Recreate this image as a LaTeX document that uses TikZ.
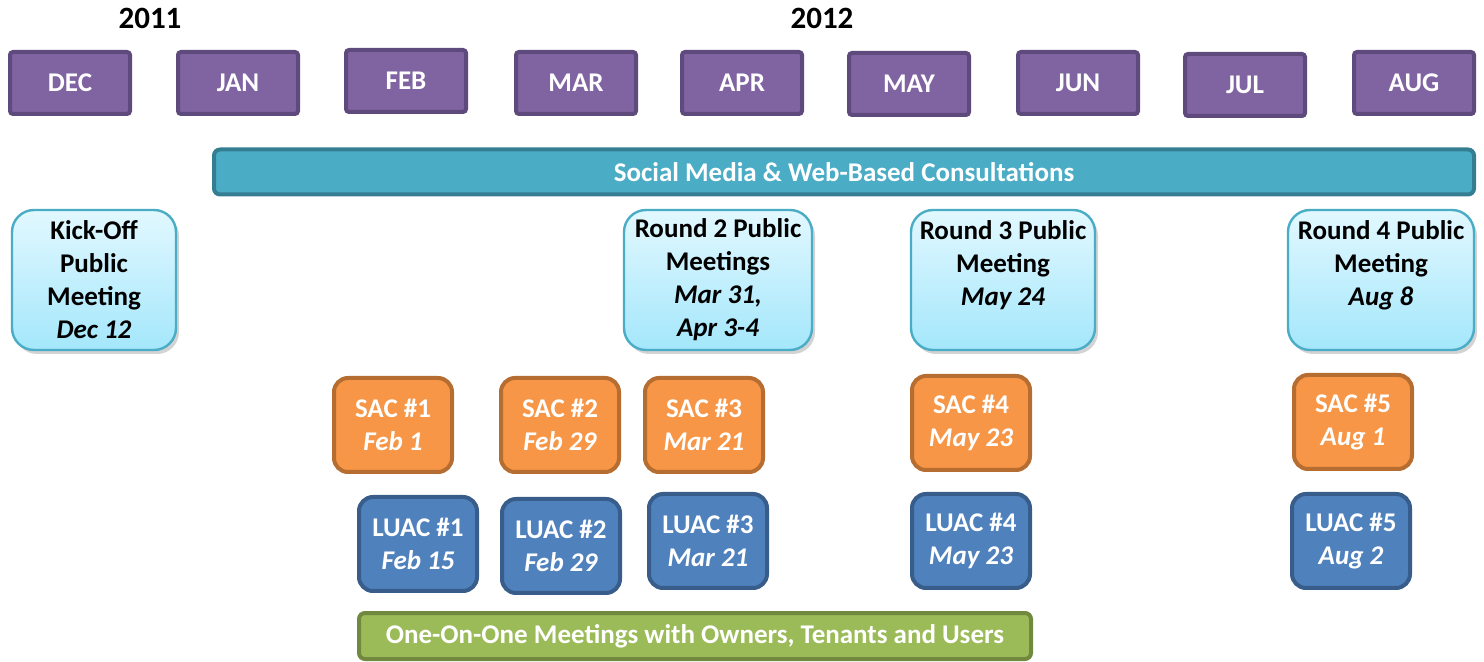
\documentclass[tikz,border=0pt]{standalone}
\usepackage{fontspec}
\setmainfont{Carlito}
\usepackage{xcolor}
\usetikzlibrary{shadows}

\definecolor{monthfill}{HTML}{8064A2}
\definecolor{monthline}{HTML}{5E4A7C}
\definecolor{webfill}{HTML}{4BACC6}
\definecolor{webline}{HTML}{357D91}
\definecolor{pubtop}{HTML}{E2F8FF}
\definecolor{pubbottom}{HTML}{A4E7FB}
\definecolor{publine}{HTML}{4BACC6}
\definecolor{sacfill}{HTML}{F79646}
\definecolor{sacline}{HTML}{B66D31}
\definecolor{luacfill}{HTML}{4F81BD}
\definecolor{luacline}{HTML}{385D8A}
\definecolor{onefill}{HTML}{9BBB59}
\definecolor{oneline}{HTML}{71893F}

\begin{document}
\begin{tikzpicture}[x=0.5pt,y=-0.5pt]
\tikzset{every node/.style={font=\bfseries\fontsize{13.5}{16.5}\selectfont, align=center, inner sep=0pt}}
\tikzset{year/.style={font=\bfseries\fontsize{15.5}{18}\selectfont}}
\tikzset{monthbox/.style={draw=monthline, fill=monthfill, line width=2pt, rounded corners=1.5pt, minimum width=60pt, minimum height=31pt, text=white}}
\tikzset{wide bar/.style={line width=2pt, rounded corners=3pt, minimum height=22.5pt, text=white}}
\tikzset{pubmeet/.style={draw=publine, line width=1.2pt, rounded corners=11pt, top color=pubtop, bottom color=pubbottom, minimum height=70pt, drop shadow={opacity=0.35, shadow xshift=1.5pt, shadow yshift=-2pt}}}
\tikzset{sacbox/.style={draw=sacline, fill=sacfill, line width=2pt, rounded corners=7pt, minimum width=59pt, minimum height=47pt, text=white}}
\tikzset{luacbox/.style={draw=luacline, fill=luacfill, line width=2pt, rounded corners=7pt, minimum width=59pt, minimum height=47pt, text=white}}

\useasboundingbox (0,0) rectangle (1484,662);

% years
\node[year] (y2011) at (150,18) {2011};
\node[year] (y2012) at (822,18) {2012};

% months
\node[monthbox] (dec) at (70,83) {DEC};
\node[monthbox] (jan) at (238,83) {JAN};
\node[monthbox] (feb) at (406,81) {FEB};
\node[monthbox] (mar) at (576,83) {MAR};
\node[monthbox] (apr) at (742,83) {APR};
\node[monthbox] (may) at (909,84) {MAY};
\node[monthbox] (jun) at (1078,83) {JUN};
\node[monthbox] (jul) at (1245,85) {JUL};
\node[monthbox] (aug) at (1414,83) {AUG};

\node[wide bar, draw=webline, fill=webfill, minimum width=630pt] (web) at (844,172) {Social Media \& Web-Based Consultations};

% public meetings
\node[pubmeet, minimum width=82pt] (kick) at (94,280) {Kick-Off\\Public\\Meeting\\\textit{Dec 12}};
\node[pubmeet, minimum width=94pt] (round2) at (718,280) {Round 2 Public\\Meetings\\\textit{Mar 31,}\\\textit{Apr 3-4}};
\node[pubmeet, minimum width=92pt] (round3) at (1003,280) {Round 3 Public\\Meeting\\\textit{May 24}\\\mbox{}};
\node[pubmeet, minimum width=93pt] (round4) at (1381,280) {Round 4 Public\\Meeting\\\textit{Aug 8}\\\mbox{}};

% SAC
\node[sacbox] (sac1) at (393,425) {SAC \#1\\\textit{Feb 1}};
\node[sacbox] (sac2) at (560,425) {SAC \#2\\\textit{Feb 29}};
\node[sacbox] (sac3) at (704,425) {SAC \#3\\\textit{Mar 21}};
\node[sacbox] (sac4) at (971,423) {SAC \#4\\\textit{May 23}};
\node[sacbox] (sac5) at (1353,422) {SAC \#5\\\textit{Aug 1}};

% LUAC
\node[luacbox] (luac1) at (418,544) {LUAC \#1\\\textit{Feb 15}};
\node[luacbox] (luac2) at (561,546) {LUAC \#2\\\textit{Feb 29}};
\node[luacbox] (luac3) at (708,541) {LUAC \#3\\\textit{Mar 21}};
\node[luacbox] (luac4) at (971,541) {LUAC \#4\\\textit{May 23}};
\node[luacbox] (luac5) at (1351,541) {LUAC \#5\\\textit{Aug 2}};

\node[wide bar, draw=oneline, fill=onefill, minimum width=336pt, minimum height=23pt] (oneonone) at (695,636) {One-On-One Meetings with Owners, Tenants and Users};

\end{tikzpicture}
\end{document}
